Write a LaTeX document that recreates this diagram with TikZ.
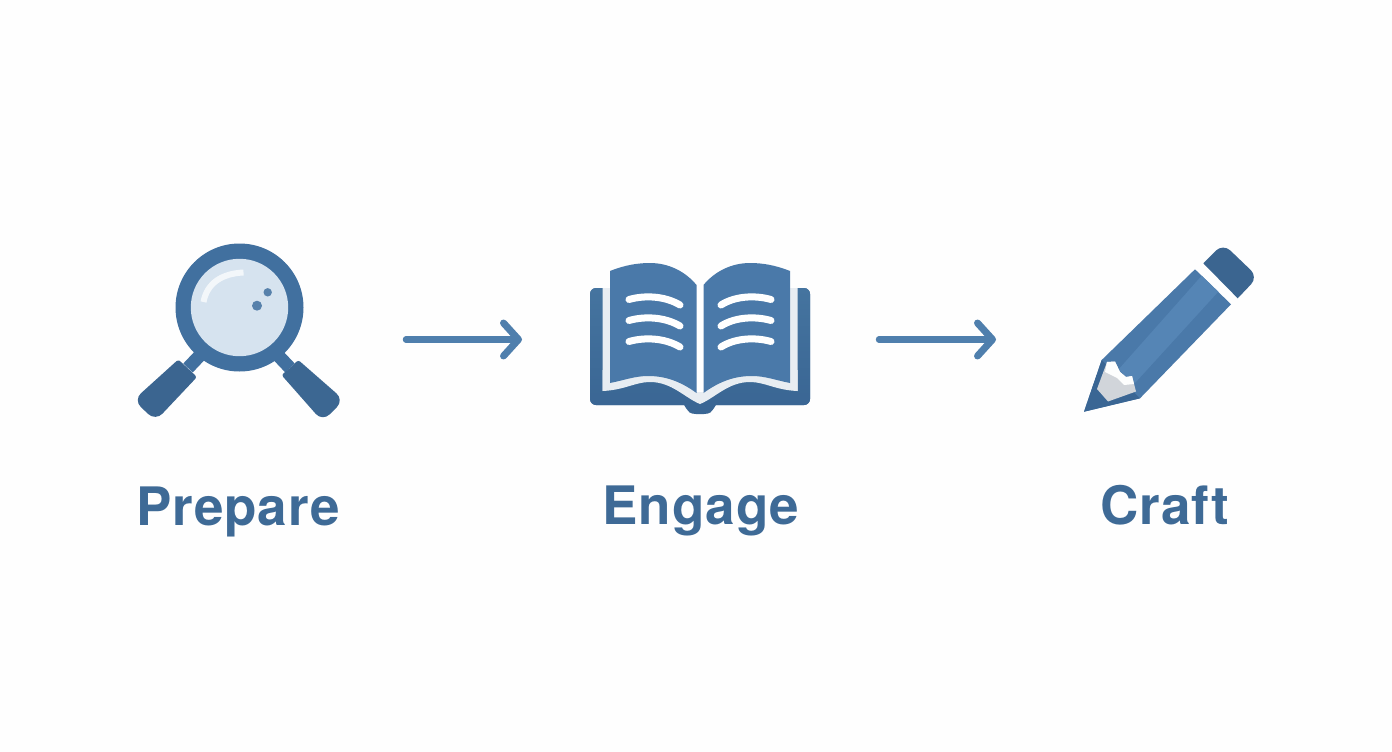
\documentclass[tikz,border=0pt]{standalone}
\usepackage{fontspec}
\setmainfont{TeX Gyre Heros}[LetterSpace=1.6]
\usetikzlibrary{arrows.meta}
\definecolor{ring}{HTML}{41709F}
\definecolor{grip}{HTML}{3B6590}
\definecolor{lens}{HTML}{D6E3EF}
\definecolor{page}{HTML}{4A79A9}
\definecolor{cover}{HTML}{45749F}
\definecolor{coverdark}{HTML}{3A6694}
\definecolor{strip}{HTML}{E8EDF2}
\definecolor{mid}{HTML}{5585B5}
\definecolor{arrowc}{HTML}{4F7FAD}
\definecolor{labelc}{HTML}{3E6A96}
\tikzset{
  x=1pt,y=-1pt,
  flow/.style={draw=arrowc,line width=6.5pt,line cap=round,-{Straight Barb[length=15pt,width=33pt,line width=7pt,round]}},
  stepname/.style={font=\bfseries\fontsize{53}{53}\selectfont,text=labelc,inner sep=0pt,anchor=base},
  pageline/.style={draw=white,line width=7pt,line cap=round}
}
\begin{document}
\begin{tikzpicture}
\useasboundingbox (0,0) rectangle (1392,752);
\fill[white!99!black!50!white] (0,0) rectangle (1392,752);
% magnifier
\draw[ring,line width=13pt] (206,349) -- (188,368);
\draw[ring,line width=13pt] (272,349) -- (290,368);
\fill[grip] (187,368) [rounded corners=2.5pt] -- (178.3,359.5) -- (197,377) [rounded corners=10pt] -- (155.5,421) -- (133.5,400) [rounded corners=2.5pt] -- (178.3,359.5) -- cycle;
\fill[ring!92!black] (290,368) [rounded corners=2.5pt] -- (298.3,360) [rounded corners=10pt] -- (344,400) -- (322.5,421.5) [rounded corners=2.5pt] -- (281.5,375) -- cycle;
\fill[ring] (239.5,307.5) circle[radius=64];
\fill[lens] (239.5,307.5) circle[radius=48.7];
\draw[white,opacity=.72,line width=6pt] (203.5,302) .. controls (207,283) and (222,273.5) .. (243.5,272.5);
\fill[ring!85!lens] (267.7,292.3) circle[radius=4.2];
\fill[ring!85!lens] (257,305.7) circle[radius=5];
% book
\fill[cover,top color=cover,middle color=cover,bottom color=coverdark,rounded corners=6pt] (590,288) -- (810,288) -- (810,405) -- (590,405) -- cycle;
\fill[coverdark] (680,403) .. controls (688,404) and (684,414) .. (696,414) -- (704,414) .. controls (716,414) and (712,404) .. (720,403) -- cycle;
\fill[strip] (602.5,288) -- (610,288) -- (610,385) -- (602.5,391) -- cycle;
\fill[strip] (797.5,288) -- (790,288) -- (790,385) -- (797.5,391) -- cycle;
\fill[strip] (602.5,391) .. controls (625,390) and (635,382) .. (650,382) .. controls (672,382) and (685,398) .. (700,404) .. controls (715,398) and (728,382) .. (750,382) .. controls (765,382) and (775,390) .. (797.5,391) -- (797.5,370) -- (602.5,370) -- cycle;
\fill[white] (696,280) rectangle (704,392);
\fill[page] (610,271) .. controls (625,265) and (638,263) .. (650,263) .. controls (668,263) and (685,271) .. (696.5,285) -- (696.5,393) .. controls (680,381) and (665,376) .. (648,376) .. controls (635,376) and (625,380) .. (610,383) -- cycle;
\fill[page] (790,271) .. controls (775,265) and (762,263) .. (750,263) .. controls (732,263) and (715,271) .. (703.5,285) -- (703.5,393) .. controls (720,381) and (735,376) .. (752,376) .. controls (765,376) and (775,380) .. (790,383) -- cycle;
\foreach \dy in {0,21,42}{
  \draw[pageline] (629,299.5+\dy) .. controls (645,295+\dy) and (665,296+\dy) .. (680,305+\dy);
  \draw[pageline] (771,299.5+\dy) .. controls (755,295+\dy) and (735,296+\dy) .. (721,305+\dy);
}
% pencil
\fill[grip] (1203.3,263.3) [rounded corners=10pt] -- (1223,243.5) -- (1258,277) [rounded corners=0pt] -- (1237.7,298.3) -- cycle;
\fill[page] (1195,269.3) -- (1231,304.3) -- (1140,398.3) -- (1084,411.7) -- (1101.7,360) -- cycle;
\fill[mid] (1201.7,275.7) -- (1218.3,291.7) -- (1135,383) -- (1118,370) -- cycle;
\fill[coverdark] (1101.7,360) -- (1140,398.3) -- (1084,411.7) -- cycle;
\fill[strip!90!black] (1107,362) -- (1115,361.5) -- (1120,372) -- (1126,377) -- (1132,376) -- (1136,391.5) -- (1108,401.5) -- (1097,389) -- cycle;
\fill[white!96!lens] (1107,362) -- (1115,361.5) -- (1120,372) -- (1126,377) -- (1132,376) -- (1134,384) -- (1124,385) -- (1117,378) -- (1105,372) -- cycle;
% labels
\node[stepname] (prep) at (238,525) {Prepare};
\node[stepname] (engage) at (701,524.5) {Engage};
\node[stepname] (craft) at (1165,524.5) {Craft};
% connectors
\coordinate (a1s) at (406,339.5);
\coordinate (a1e) at (522,339.5);
\coordinate (a2s) at (879,339.5);
\coordinate (a2e) at (996,339.5);
\draw[flow] (a1s) -- (a1e);
\draw[flow] (a2s) -- (a2e);
\end{tikzpicture}
\end{document}
